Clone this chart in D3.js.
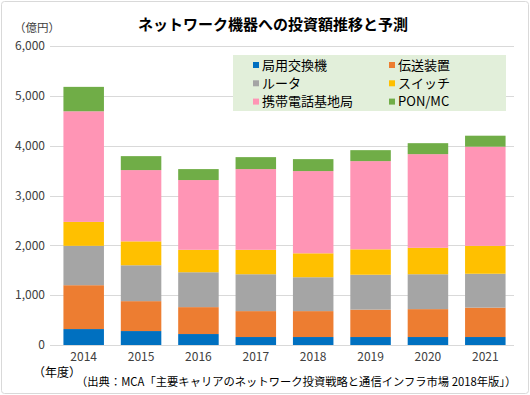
<!DOCTYPE html>
<html lang="ja">
<head>
<meta charset="UTF-8">
<script src="https://d3js.org/d3.v7.min.js"></script>
<style>
  body { margin: 0; background: #fff; }
  text { font-family: "Noto Sans CJK JP", sans-serif; }
</style>
</head>
<body>
<svg id="chart" width="530" height="395"></svg>
<script>
// 年度
const years = ["2014", "2015", "2016", "2017", "2018", "2019", "2020", "2021"];
// 系列名
const seriesNames = ["局用交換機", "伝送装置", "ルータ", "スイッチ", "携帯電話基地局", "PON/MC"];
const seriesColors = ["#0070c0", "#ed7d31", "#a5a5a5", "#ffc000", "#ff95b5", "#70ad47"];
// 各系列の値（億円）
const kyokuyou = [320, 280, 220, 160, 160, 160, 160, 160];
const densou   = [880, 600, 540, 520, 520, 550, 560, 590];
const router   = [790, 720, 700, 740, 680, 700, 700, 680];
const sw       = [480, 480, 450, 490, 480, 510, 530, 560];
const keitai   = [2220, 1430, 1400, 1620, 1650, 1770, 1880, 1990];
const pon      = [490, 280, 220, 240, 240, 220, 220, 220];
const yTicks = [0, 1000, 2000, 3000, 4000, 5000, 6000];

const seriesValues = [kyokuyou, densou, router, sw, keitai, pon];
const table = years.map((y, i) => {
  const row = { year: y };
  seriesNames.forEach((s, j) => row[s] = seriesValues[j][i]);
  return row;
});

const width = 530, height = 395;
const margin = { top: 46, right: 16, bottom: 50, left: 55 };

const svg = d3.select("#chart");

// 外枠
svg.append("rect")
  .attr("x", 1.5).attr("y", 1.5)
  .attr("width", width - 3).attr("height", height - 3)
  .attr("rx", 3)
  .attr("fill", "#fff").attr("stroke", "#d9d9d9");

const x = d3.scaleBand()
  .domain(years)
  .range([margin.left, width - margin.right])
  .paddingInner(0.294)
  .paddingOuter(0.147);

const y = d3.scaleLinear()
  .domain([0, 6000])
  .range([height - margin.bottom, margin.top]);

// グリッド線
svg.append("g")
  .selectAll("line")
  .data(yTicks)
  .enter().append("line")
  .attr("x1", margin.left - 5)
  .attr("x2", width - margin.right)
  .attr("y1", d => Math.round(y(d)) + 0.5)
  .attr("y2", d => Math.round(y(d)) + 0.5)
  .attr("stroke", "#d9d9d9");

// Y軸ラベル
svg.append("g")
  .selectAll("text")
  .data(yTicks)
  .enter().append("text")
  .attr("x", 45)
  .attr("y", d => y(d))
  .attr("dy", "0.35em")
  .attr("text-anchor", "end")
  .style("font-size", "12px")
  .attr("fill", "#404040")
  .text(d => d3.format(",")(d));

// 積み上げ棒
const stack = d3.stack().keys(seriesNames)(table);
const color = d3.scaleOrdinal().domain(seriesNames).range(seriesColors);

svg.append("g")
  .selectAll("g")
  .data(stack)
  .enter().append("g")
  .attr("fill", d => color(d.key))
  .selectAll("rect")
  .data(d => d)
  .enter().append("rect")
  .attr("x", d => x(d.data.year))
  .attr("y", d => y(d[1]))
  .attr("width", x.bandwidth())
  .attr("height", d => y(d[0]) - y(d[1]));

// X軸ラベル
svg.append("g")
  .selectAll("text")
  .data(years)
  .enter().append("text")
  .attr("x", d => x(d) + x.bandwidth() / 2)
  .attr("y", 361)
  .attr("text-anchor", "middle")
  .style("font-size", "12px")
  .attr("fill", "#404040")
  .text(d => d);

// タイトル
svg.append("text")
  .attr("x", 273)
  .attr("y", 30)
  .attr("text-anchor", "middle")
  .style("font-size", "15px")
  .style("font-weight", "bold")
  .attr("fill", "#000")
  .text("ネットワーク機器への投資額推移と予測");

svg.append("text")
  .attr("x", 14)
  .attr("y", 32)
  .style("font-size", "11.5px")
  .attr("fill", "#404040")
  .text("（億円）");

// 凡例
const legend = svg.append("g");
legend.append("rect")
  .attr("x", 233).attr("y", 55)
  .attr("width", 273).attr("height", 56)
  .attr("fill", "#e2efda");

const legendItems = legend.selectAll("g")
  .data(seriesNames)
  .enter().append("g")
  .attr("transform", (d, i) => `translate(${i % 2 === 0 ? 253 : 389},${65 + Math.floor(i / 2) * 18.3})`);

legendItems.append("rect")
  .attr("x", 0).attr("y", -3)
  .attr("width", 6).attr("height", 6)
  .attr("fill", d => color(d));

legendItems.append("text")
  .attr("x", 9)
  .attr("dy", "0.35em")
  .style("font-size", "13px")
  .attr("fill", "#000")
  .text(d => d);

// 下部注記
svg.append("text")
  .attr("x", 33)
  .attr("y", 377)
  .style("font-size", "12px")
  .attr("fill", "#000")
  .text("（年度）");

svg.append("text")
  .attr("x", 76)
  .attr("y", 386)
  .style("font-size", "11.3px")
  .attr("fill", "#000")
  .text("（出典：MCA「主要キャリアのネットワーク投資戦略と通信インフラ市場 2018年版」）");
</script>
</body>
</html>
